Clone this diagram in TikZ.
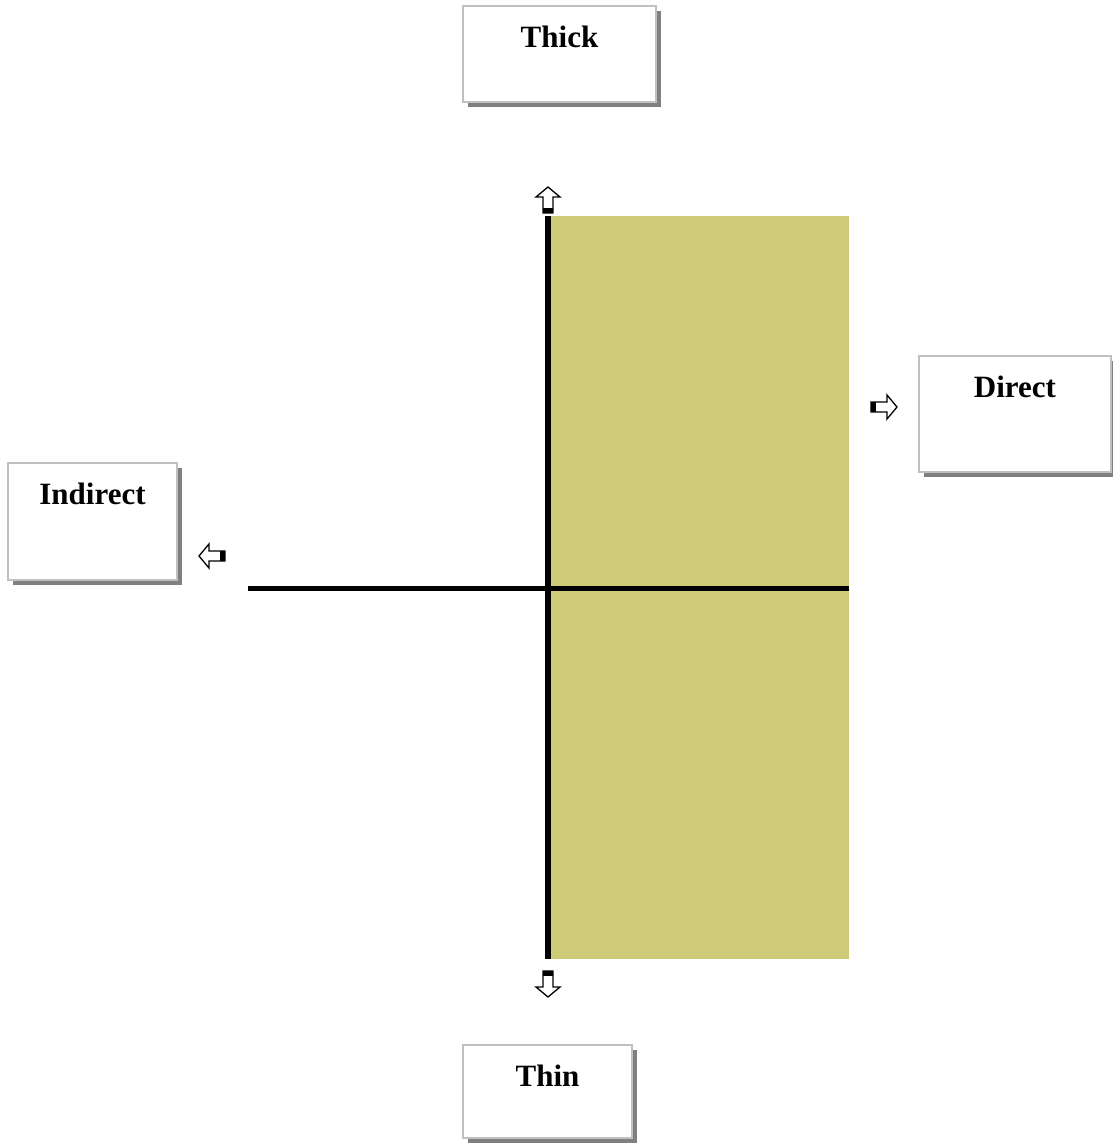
\documentclass[tikz,border=0pt]{standalone}
\usepackage{fontspec}
\setmainfont{Liberation Serif}
\usetikzlibrary{shadows}
\definecolor{boxborder}{RGB}{192,192,192}
\definecolor{shadowgray}{RGB}{128,128,128}
\definecolor{quadfill}{RGB}{206,203,120}
\tikzset{
  labelbox/.style={draw=boxborder, line width=2pt, fill=white,
    drop shadow={shadow xshift=5pt, shadow yshift=-5pt, fill=shadowgray, opacity=1}},
  boxtext/.style={anchor=north, inner sep=0pt, yshift=-21pt,
    font=\fontsize{31}{36}\selectfont\bfseries},
  axis/.style={line width=#1, black},
  blockarrow/.pic={
    \draw[fill=white, line width=1.3pt, line join=miter]
      (-13,-5) -- (3,-5) -- (3,-12) -- (13,0) -- (3,12) -- (3,5) -- (-13,5) -- cycle;
    \fill[black] (-13,-5) rectangle (-8,5);
  }
}
\begin{document}
\begin{tikzpicture}[x=1pt, y=-1pt]
\useasboundingbox (0,0) rectangle (1112,1144);
% shaded quadrant
\fill[quadfill] (550,216) rectangle (849,959);
% axes
\coordinate (vtop) at (548,216);
\coordinate (vbot) at (548,959);
\coordinate (hleft) at (248,588);
\coordinate (hright) at (849,588);
\draw[axis=6pt] (vtop) -- (vbot);
\draw[axis=5pt] (hleft) -- (hright);
% boxes
\node[labelbox, minimum width=193pt, minimum height=96pt,
  label={[boxtext]north:Thick}] (thick) at (559.5,54) {};
\node[labelbox, minimum width=192pt, minimum height=116pt,
  label={[boxtext]north:Direct}] (direct) at (1015,414) {};
\node[labelbox, minimum width=169pt, minimum height=117pt,
  label={[boxtext]north:Indirect}] (indirect) at (92.5,521.5) {};
\node[labelbox, minimum width=169pt, minimum height=93pt,
  label={[boxtext]north:Thin}] (thin) at (547.5,1091.5) {};
% arrows
\pic[rotate=90] at (548,200) {blockarrow};
\pic[rotate=-90] at (548,984) {blockarrow};
\pic at (884,407) {blockarrow};
\pic[rotate=180] at (212,556) {blockarrow};
\end{tikzpicture}
\end{document}
